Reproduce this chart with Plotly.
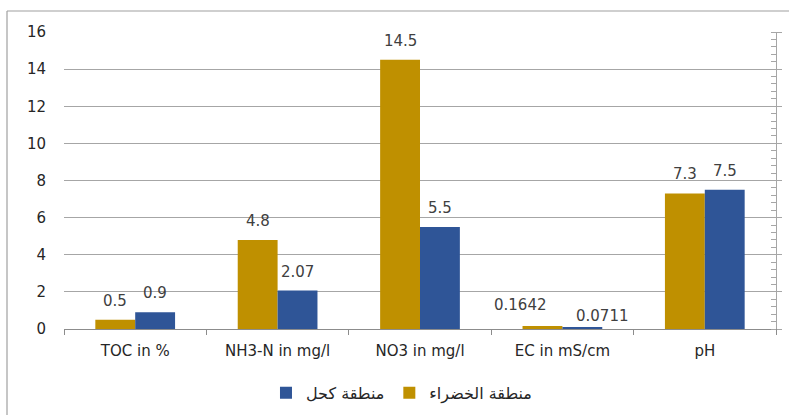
import plotly.graph_objects as go

# Measured parameters per sampling area
categories = ["TOC in %", "NH3-N in mg/l", "NO3 in mg/l", "EC in mS/cm", "pH"]
green_area = [0.5, 4.8, 14.5, 0.1642, 7.3]     # منطقة الخضراء
kahal_area = [0.9, 2.07, 5.5, 0.0711, 7.5]     # منطقة كحل
green_labels = ["0.5", "4.8", "14.5", "0.1642", "7.3"]
kahal_labels = ["0.9", "2.07", "5.5", "0.0711", "7.5"]

GOLD = "#BF9000"
BLUE = "#2F5597"
TEXT = "#404040"
GRID = "#A6A6A6"
FONT = "DejaVu Sans, sans-serif"

W, H = 789, 415
L, R, T, B = 64, 13, 32, 86

fig = go.Figure()
fig.add_trace(go.Bar(
    x=categories, y=green_area, name="منطقة الخضراء",
    marker=dict(color=GOLD, line=dict(width=0)),
))
fig.add_trace(go.Bar(
    x=categories, y=kahal_area, name="منطقة كحل",
    marker=dict(color=BLUE, line=dict(width=0)),
))
# invisible trace to carry the right-hand axis
fig.add_trace(go.Scatter(x=categories, y=[None] * 5, yaxis="y2",
                         showlegend=False, hoverinfo="skip"))

# value labels above each bar; the two tiny EC bars get their labels nudged apart
half_bar = 20
for cat, v, lab in zip(categories, green_area, green_labels):
    dx, dy = (-22, 21) if cat.startswith("EC") else (0, 19)
    fig.add_annotation(x=cat, y=v, text=lab, showarrow=False,
                       xshift=-half_bar + dx, yshift=dy, yanchor="middle",
                       font=dict(family=FONT, size=15, color=TEXT))
for cat, v, lab in zip(categories, kahal_area, kahal_labels):
    dx, dy = (20, 12) if cat.startswith("EC") else (0, 19)
    fig.add_annotation(x=cat, y=v, text=lab, showarrow=False,
                       xshift=half_bar + dx, yshift=dy, yanchor="middle",
                       font=dict(family=FONT, size=15, color=TEXT))

pw, ph = W - L - R, H - T - B
px = lambda v: (v - L) / pw
py = lambda v: (H - B - v) / ph

frame = dict(color="#A0A0A0", width=1.2)
fig.add_shape(type="line", xref="paper", yref="paper",
              x0=px(7), x1=px(792), y0=py(11), y1=py(11), line=frame)
fig.add_shape(type="line", xref="paper", yref="paper",
              x0=px(7), x1=px(7), y0=py(11), y1=py(418), line=frame)

fig.update_layout(
    width=W, height=H,
    margin=dict(l=L, r=R, t=T, b=B, autoexpand=False),
    paper_bgcolor="white", plot_bgcolor="white",
    barmode="group", bargap=0.44, bargroupgap=0,
    font=dict(family=FONT, size=15, color=TEXT),
    xaxis=dict(
        type="category", showgrid=False, showline=True,
        linecolor="#8C8C8C", linewidth=1,
        ticks="outside", tickson="boundaries", ticklen=5,
        tickcolor="#8C8C8C", tickfont=dict(size=15, color="#262626"),
        ticklabelstandoff=8, automargin=False,
    ),
    yaxis=dict(
        range=[0, 16], dtick=2, showgrid=True, gridcolor=GRID,
        gridwidth=1, showline=False, zeroline=False, ticks="",
        tickfont=dict(size=15, color="#262626"), ticklabelstandoff=17,
        automargin=False,
    ),
    yaxis2=dict(
        overlaying="y", side="right", range=[0, 16], dtick=2,
        showgrid=False, showline=True, linecolor="#A6A6A6", linewidth=1,
        showticklabels=False, ticks="outside", ticklen=5, tickcolor="#A6A6A6",
        zeroline=False, automargin=False,
        minor=dict(ticks="inside", dtick=0.4, ticklen=5, tickcolor="#A6A6A6"),
    ),
    legend=dict(
        orientation="h", x=0.474, xanchor="center", y=-0.215, yanchor="middle",
        traceorder="reversed",
        font=dict(family="DejaVu Sans", size=16, color="#262626"),
        itemwidth=30,
    ),
    showlegend=True,
)

fig.write_html("out.html")
